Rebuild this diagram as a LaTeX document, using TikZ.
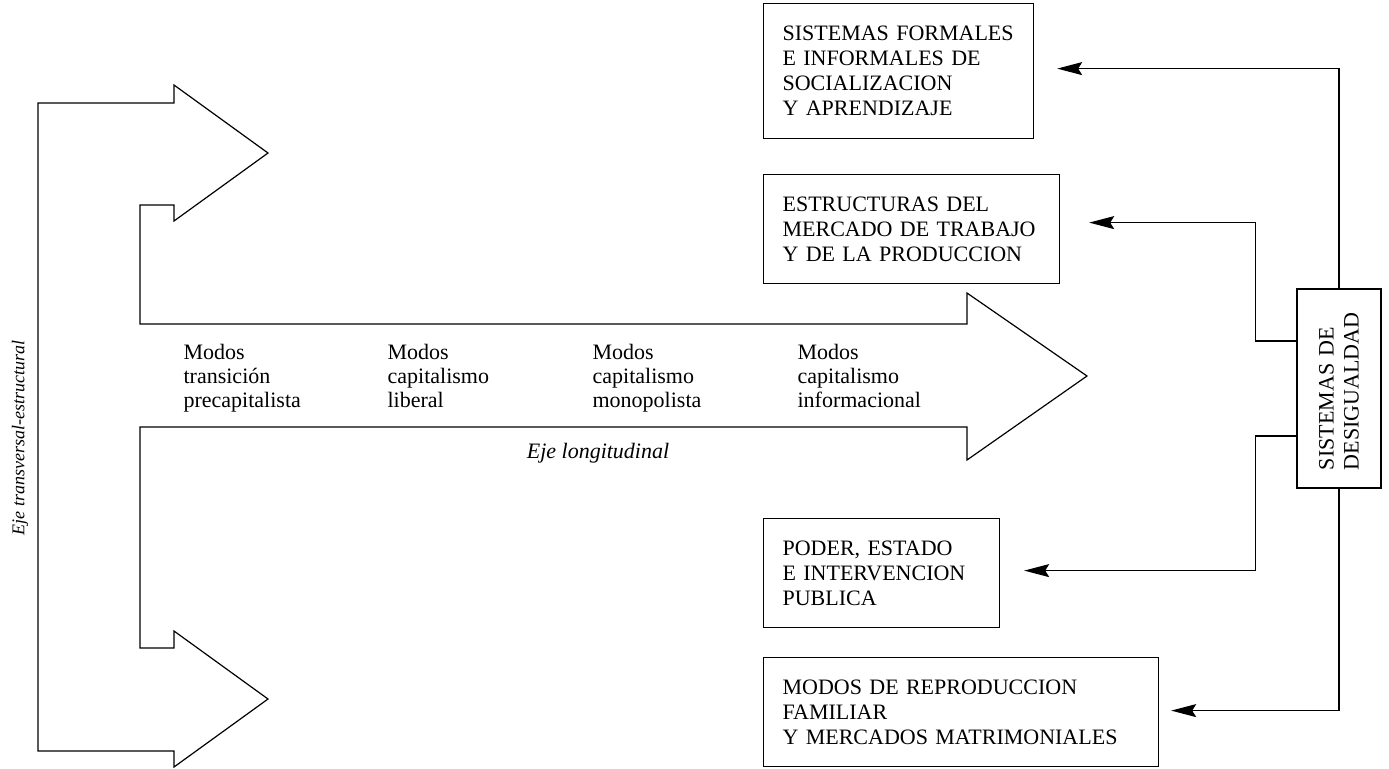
\documentclass[tikz,border=0pt]{standalone}
\usepackage{fontspec}
\setmainfont{Liberation Serif}
\usetikzlibrary{arrows.meta}
\begin{document}
\begin{tikzpicture}[x=0.5pt,y=-0.5pt,line width=0.6pt,
  every node/.style={font=\fontsize{11}{12.5}\selectfont},
  box/.style={draw,anchor=north west,align=left,inner xsep=9.5pt,inner ysep=0pt},
  modo/.style={anchor=north west,align=left,inner sep=0pt,font=\fontsize{11}{12}\selectfont},
  eje/.style={inner sep=0pt,font=\fontsize{11}{12}\selectfont\itshape},
  conn/.style={-{Stealth[length=12.5pt,width=6.5pt,inset=2pt]}}]
\useasboundingbox (0,0) rectangle (1389,768);
% flecha de los dos ejes
\draw (38,103)--(174,103)--(174,85)--(268,153)--(174,221)--(174,205)--(140,205)
  --(140,324)--(967,324)--(967,293)--(1087,376)--(967,460)--(967,427)--(140,427)
  --(140,648)--(174,648)--(174,631)--(268,699)--(174,767)--(174,751)--(38,751)--cycle;
\node[modo] (M1) at (183,344) {Modos\\transición\\precapitalista};
\node[modo] (M2) at (387,344) {Modos\\capitalismo\\liberal};
\node[modo] (M3) at (592,344) {Modos\\capitalismo\\monopolista};
\node[modo] (M4) at (797,344) {Modos\\capitalismo\\informacional};
\node[eje] (EjeL) at (598,453) {Eje longitudinal};
\node[eje,rotate=90,font=\fontsize{9}{10}\selectfont\itshape] (EjeT) at (20,438)
  {Eje transversal-estructural};

% cajas
\node[box,text width=116pt,minimum height=67.5pt] (SFI) at (763,3)
  {SISTEMAS FORMALES\\E INFORMALES DE\\SOCIALIZACION\\Y APRENDIZAJE};
\node[box,text width=129pt,minimum height=54.5pt] (EMT) at (763,174)
  {ESTRUCTURAS DEL\\MERCADO DE TRABAJO\\Y DE LA PRODUCCION};
\node[box,text width=99pt,minimum height=54.5pt] (PEI) at (763,518)
  {PODER, ESTADO\\E INTERVENCION\\PUBLICA};
\node[box,text width=178.5pt,minimum height=54.5pt] (MRF) at (763,657)
  {MODOS DE REPRODUCCION\\FAMILIAR\\Y MERCADOS MATRIMONIALES};
\node[draw,rotate=90,align=left,text width=81.5pt,inner xsep=9pt,inner ysep=0pt,
  minimum height=42pt] (SD) at (1339,388.5) {SISTEMAS DE\\DESIGUALDAD};

% puntas de las flechas
\coordinate (T1) at ([xshift=11.5pt,yshift=1.25pt]SFI.east);
\coordinate (T2) at ([xshift=14.5pt,yshift=3.25pt]EMT.east);
\coordinate (T3) at ([xshift=12pt,yshift=1.25pt]PEI.east);
\coordinate (T4) at ([xshift=6pt,yshift=0.75pt]MRF.east);
\draw[conn] (SD.east) |- (T1);
\draw[conn] ([yshift=23.75pt]SD.north) -- ++(-41,0) |- (T2);
\draw[conn] ([yshift=-23.75pt]SD.north) -- ++(-41,0) |- (T3);
\draw[conn] (SD.west) |- (T4);
\end{tikzpicture}
\end{document}
